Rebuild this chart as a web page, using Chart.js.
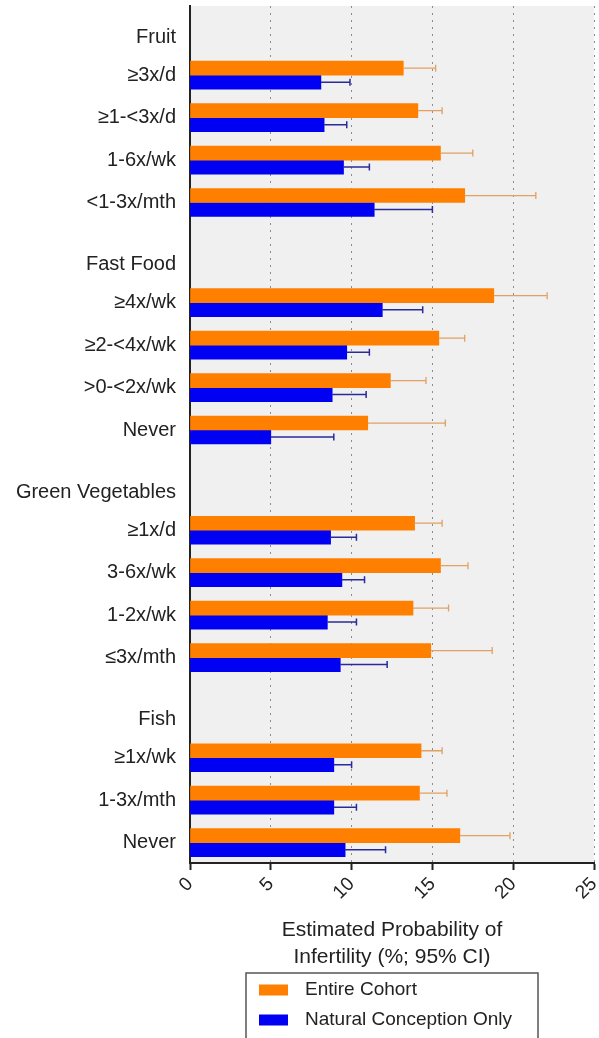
<!DOCTYPE html>
<html>
<head>
<meta charset="utf-8">
<title>Estimated Probability of Infertility</title>
<script src="https://cdn.jsdelivr.net/npm/chart.js@4.4.1/dist/chart.umd.min.js"></script>
<style>
  html, body { margin: 0; padding: 0; background: #fff; }
  canvas { display: block; }
</style>
</head>
<body>
<canvas id="infertilityChart" width="599" height="1038"></canvas>
<script>
// food groups and their intake levels (top to bottom)
const groups = ['Fruit', 'Fast Food', 'Green Vegetables', 'Fish'];
const levels = [
    ['≥3x/d', '≥1-<3x/d', '1-6x/wk', '<1-3x/mth'],
    ['≥4x/wk', '≥2-<4x/wk', '>0-<2x/wk', 'Never'],
    ['≥1x/d', '3-6x/wk', '1-2x/wk', '≤3x/mth'],
    ['≥1x/wk', '1-3x/mth', 'Never']
];

// estimated probability (%) and upper 95% CI, one value per intake level
const entireCohort      = [13.2, 14.1, 15.5, 17.0, 18.8, 15.4, 12.4, 11.0, 13.9, 15.5, 13.8, 14.9, 14.3, 14.2, 16.7];
const entireCohortUpper = [15.2, 15.6, 17.5, 21.4, 22.1, 17.0, 14.6, 15.8, 15.6, 17.2, 16.0, 18.7, 15.6, 15.9, 19.8];
const naturalOnly       = [8.1, 8.3, 9.5, 11.4, 11.9, 9.7, 8.8, 5.0, 8.7, 9.4, 8.5, 9.3, 8.9, 8.9, 9.6];
const naturalOnlyUpper  = [9.9, 9.7, 11.1, 15.0, 14.4, 11.1, 10.9, 8.9, 10.3, 10.8, 10.3, 12.2, 10.0, 10.3, 12.1];

const xTicks = [0, 5, 10, 15, 20, 25];

const FONT = '"Liberation Sans", Arial, Helvetica, sans-serif';
const TEXT = '#222';

// row layout on the y axis: header row, then one row per level, then a gap
const GROUP_GAP = 1.36;
const HEADER_OFFSET = 0.9;
const rows = [];
const levelPos = [];
let pos = 0;
groups.forEach(function(g, gi) {
    rows.push({ pos: pos - HEADER_OFFSET, label: g });
    levels[gi].forEach(function(l) {
        rows.push({ pos: pos, label: l });
        levelPos.push(pos);
        pos += 1;
    });
    pos += GROUP_GAP;
});

function toPoints(values) {
    return values.map(function(v, i) { return { x: v, y: levelPos[i] }; });
}

// keep the plot area where the layout padding puts it
function noScalePadding(scale) {
    scale.paddingTop = 0;
    scale.paddingBottom = 0;
    scale.paddingLeft = 0;
    scale.paddingRight = 0;
}

// plot background
const plotBackground = {
    id: 'plotBackground',
    beforeDraw: function(chart) {
        const a = chart.chartArea;
        const ctx = chart.ctx;
        ctx.save();
        ctx.fillStyle = '#f0f0f0';
        ctx.fillRect(a.left, a.top, a.right - a.left, a.bottom - a.top);
        ctx.restore();
    }
};

// upper confidence limit whiskers
const errorBars = {
    id: 'errorBars',
    afterDatasetsDraw: function(chart) {
        const ctx = chart.ctx;
        const xScale = chart.scales.x;
        chart.data.datasets.forEach(function(ds, di) {
            const meta = chart.getDatasetMeta(di);
            ctx.save();
            ctx.strokeStyle = ds.errorColor;
            ctx.lineWidth = ds.errorWidth;
            meta.data.forEach(function(bar, i) {
                const xe = xScale.getPixelForValue(ds.upper[i]);
                ctx.beginPath();
                ctx.moveTo(bar.x, bar.y);
                ctx.lineTo(xe, bar.y);
                ctx.moveTo(xe, bar.y - 3.5);
                ctx.lineTo(xe, bar.y + 3.5);
                ctx.stroke();
            });
            ctx.restore();
        });
    }
};

// boxed legend under the axis title
const boxLegend = {
    id: 'boxLegend',
    afterDraw: function(chart) {
        const ctx = chart.ctx;
        const a = chart.chartArea;
        const cx = (a.left + a.right) / 2;
        const w = 292;
        const left = cx - w / 2;
        const top = chart.scales.x.bottom;
        ctx.save();
        ctx.strokeStyle = '#555';
        ctx.lineWidth = 1.5;
        ctx.strokeRect(left, top, w, 80);
        ctx.font = '19px ' + FONT;
        ctx.textBaseline = 'middle';
        chart.data.datasets.forEach(function(ds, i) {
            const y = top + 17 + i * 30;
            ctx.fillStyle = ds.backgroundColor;
            ctx.fillRect(left + 13, y - 5.5, 29, 11);
            ctx.fillStyle = TEXT;
            ctx.fillText(ds.label, left + 59, y);
        });
        ctx.restore();
    }
};

const ctx = document.getElementById('infertilityChart').getContext('2d');
new Chart(ctx, {
    type: 'bar',
    data: {
        datasets: [
            {
                label: 'Entire Cohort',
                data: toPoints(entireCohort),
                upper: entireCohortUpper,
                backgroundColor: '#ff8000',
                errorColor: '#e2a062',
                errorWidth: 1.3
            },
            {
                label: 'Natural Conception Only',
                data: toPoints(naturalOnly),
                upper: naturalOnlyUpper,
                backgroundColor: '#0000f2',
                errorColor: '#2a2a9a',
                errorWidth: 1.5
            }
        ]
    },
    options: {
        indexAxis: 'y',
        responsive: false,
        animation: false,
        devicePixelRatio: 1,
        datasets: {
            bar: { barThickness: 14, borderWidth: 0 }
        },
        layout: {
            padding: { top: 6, right: 5, bottom: 65, left: 0 }
        },
        scales: {
            y: {
                type: 'linear',
                bounds: 'data',
                offset: false,
                reverse: true,
                min: -1.63,
                max: 18.56,
                z: 1,
                afterBuildTicks: function(scale) {
                    scale.ticks = rows.map(function(r) { return { value: r.pos }; });
                },
                afterFit: function(scale) {
                    scale.width = 190;
                    noScalePadding(scale);
                },
                grid: { display: false, drawTicks: false, offset: false },
                border: { display: true, color: '#222', width: 2 },
                ticks: {
                    autoSkip: false,
                    padding: 14,
                    color: TEXT,
                    font: { family: FONT, size: 20 },
                    callback: function(value, index) { return rows[index].label; }
                }
            },
            x: {
                type: 'linear',
                bounds: 'data',
                min: 0,
                max: 25,
                afterBuildTicks: function(scale) {
                    scale.ticks = xTicks.map(function(v) { return { value: v }; });
                },
                afterFit: function(scale) {
                    scale.height = 110;
                    noScalePadding(scale);
                },
                grid: {
                    color: '#8c8c8c',
                    lineWidth: 1,
                    tickColor: '#222',
                    tickWidth: 2,
                    tickLength: 7
                },
                border: { display: true, color: '#222', width: 2, dash: [2, 5] },
                ticks: {
                    autoSkip: false,
                    minRotation: 45,
                    maxRotation: 45,
                    padding: 3,
                    color: TEXT,
                    font: { family: FONT, size: 19 }
                },
                title: {
                    display: true,
                    text: ['Estimated Probability of', 'Infertility (%; 95% CI)'],
                    color: TEXT,
                    font: { family: FONT, size: 21, lineHeight: 1.29 },
                    padding: { top: 0, bottom: 2 }
                }
            }
        },
        plugins: {
            legend: { display: false },
            tooltip: { enabled: false }
        }
    },
    plugins: [plotBackground, errorBars, boxLegend]
});
</script>
</body>
</html>
